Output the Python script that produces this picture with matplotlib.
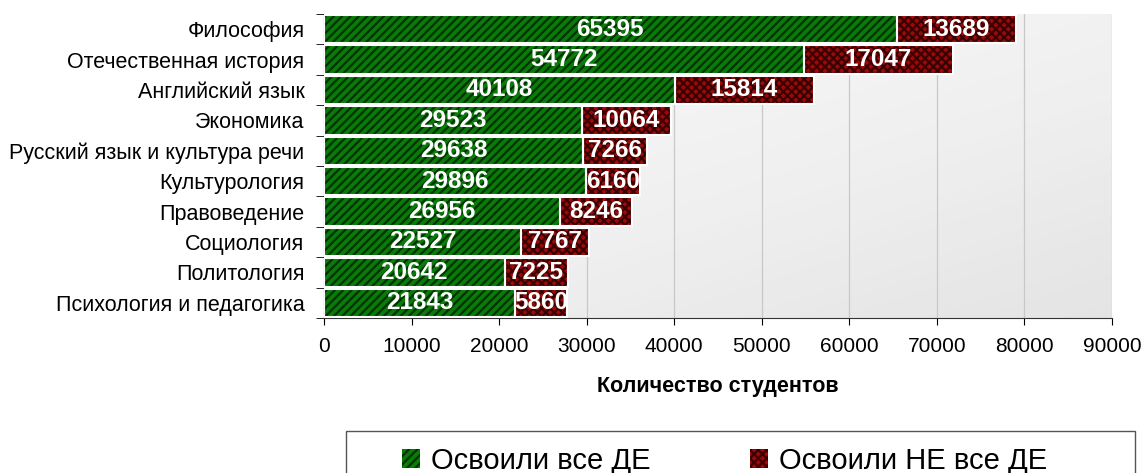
import matplotlib.pyplot as plt
import numpy as np
from matplotlib.patches import Rectangle

plt.rcParams['font.family'] = ['Liberation Sans', 'DejaVu Sans']
plt.rcParams['hatch.linewidth'] = 1.6

subjects = ["Философия", "Отечественная история", "Английский язык", "Экономика",
            "Русский язык и культура речи", "Культурология", "Правоведение",
            "Социология", "Политология", "Психология и педагогика"]
passed_all = [65395, 54772, 40108, 29523, 29638, 29896, 26956, 22527, 20642, 21843]
passed_not_all = [13689, 17047, 15814, 10064, 7266, 6160, 8246, 7767, 7225, 5860]

green = "#0a7a0a"
red = "#9a0a0a"

fig = plt.figure(figsize=(11.44, 4.73), dpi=100)
ax = fig.add_axes([324/1144, 1 - 318/473, 788/1144, 304/473])

# gradient background of the plot area
gx, gy = np.meshgrid(np.linspace(0, 1, 200), np.linspace(0, 1, 200))
grad = 0.55 * gy + 0.45 * gx
ax.imshow(grad, extent=(0, 1, 0, 1), transform=ax.transAxes, cmap="Greys",
          vmin=-0.3, vmax=6.5, aspect="auto", zorder=0, origin="upper")

y = np.arange(len(subjects))
h = 0.93
ax.barh(y, passed_all, height=h, color=green, edgecolor="#003300", hatch="////",
        linewidth=0, zorder=2)
ax.barh(y, passed_all, height=h, color="none", edgecolor="white", linewidth=1.5, zorder=3)
ax.barh(y, passed_not_all, left=passed_all, height=h, color=red, edgecolor="#3a0000",
        hatch="xxxx", linewidth=0, zorder=2)
ax.barh(y, passed_not_all, left=passed_all, height=h, color="none", edgecolor="white",
        linewidth=1.5, zorder=3)

for i in range(len(subjects)):
    ax.text(passed_all[i] / 2, y[i], str(passed_all[i]), color="white",
            fontsize=17.5, fontweight="bold", ha="center", va="center", zorder=4)
    ax.text(passed_all[i] + passed_not_all[i] / 2, y[i], str(passed_not_all[i]),
            color="white", fontsize=17.5, fontweight="bold", ha="center", va="center", zorder=4)

ax.set_xlim(0, 90000)
ax.set_ylim(len(subjects) - 0.5, -0.5)
ax.set_xticks(np.arange(0, 90001, 10000))
ax.tick_params(axis="x", labelsize=15, length=5, direction="out", pad=9)
ax.set_yticks(y)
ax.set_yticklabels(subjects, fontsize=15.5)
ax.set_yticks(np.arange(-0.5, len(subjects), 1), minor=True)
ax.tick_params(axis="y", which="major", length=0, pad=14)
ax.tick_params(axis="y", which="minor", length=6, direction="out")
ax.grid(axis="x", color="#c8c8c8", linewidth=0.9, zorder=1)
ax.set_axisbelow(True)
for s in ["top", "right"]:
    ax.spines[s].set_visible(False)
ax.spines["left"].set_color("#333333")
ax.spines["bottom"].set_color("#333333")
ax.set_xlabel("Количество студентов", fontsize=15.5, fontweight="bold", labelpad=14)

fig.patches.append(Rectangle((346/1144, -0.05), 789/1144, 0.05 + 1 - 431/473,
                             transform=fig.transFigure, fill=False,
                             edgecolor="#555555", linewidth=1))
h1 = Rectangle((0, 0), 1, 1, facecolor=green, edgecolor="#003300", hatch="////", linewidth=0)
h2 = Rectangle((0, 0), 1, 1, facecolor=red, edgecolor="#3a0000", hatch="xxxx", linewidth=0)
fig.legend([h1, h2], ["Освоили все ДЕ", "Освоили НЕ все ДЕ"], ncol=2, frameon=False,
           loc="center", bbox_to_anchor=(725/1144, 1 - 461/473), fontsize=21,
           handlelength=0.6, handleheight=0.6, handletextpad=0.4, columnspacing=3.4)

fig.savefig("out.png", dpi=100)
